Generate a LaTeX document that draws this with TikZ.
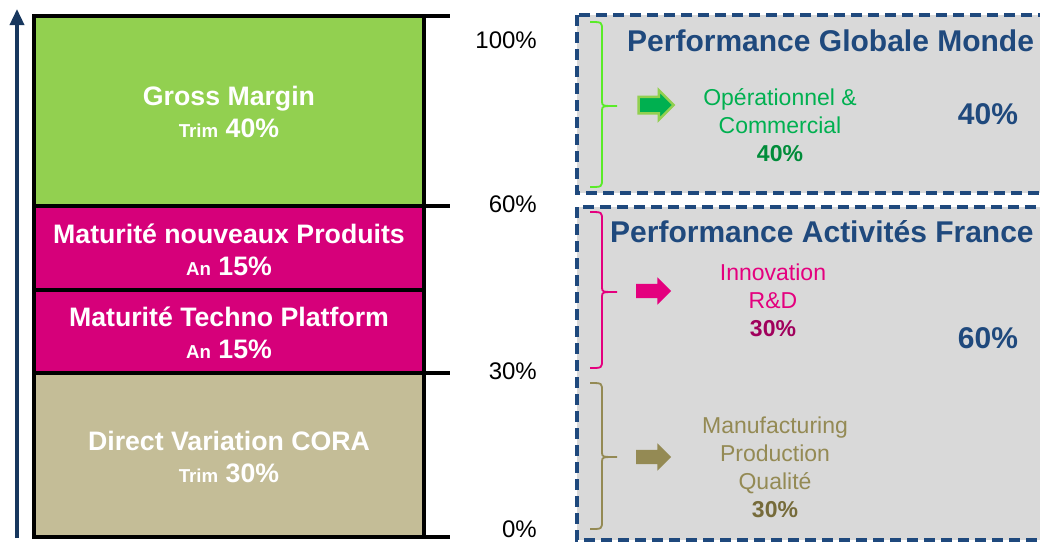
\documentclass[tikz,border=0pt]{standalone}
\usepackage{fontspec}
\setmainfont{Liberation Sans}
\usetikzlibrary{arrows.meta}
\usetikzlibrary{shapes.arrows}

\definecolor{grossgreen}{RGB}{146,208,80}
\definecolor{matmagenta}{RGB}{214,0,122}
\definecolor{coratan}{RGB}{196,189,151}
\definecolor{navy}{RGB}{31,73,125}
\definecolor{axisnavy}{RGB}{23,55,94}
\definecolor{panelgray}{RGB}{217,217,217}
\definecolor{opgreen}{RGB}{0,176,80}
\definecolor{opgreendark}{RGB}{0,140,58}
\definecolor{limebrace}{RGB}{90,235,40}
\definecolor{innopink}{RGB}{228,0,126}
\definecolor{innodark}{RGB}{160,0,92}
\definecolor{olive}{RGB}{148,138,84}
\definecolor{olivedark}{RGB}{118,107,58}

\tikzset{
    bartext/.style={text=white, inner sep=0, align=center, font=\fontsize{26.7}{32}\selectfont\bfseries},
    pct/.style={anchor=east, inner sep=0, font=\fontsize{24}{28}\selectfont},
    panel/.style={fill=panelgray, draw=navy, line width=3.3pt, dash pattern=on 11pt off 6pt},
    paneltitle/.style={anchor=base west, inner sep=0, text=navy, font=\fontsize{30}{34}\selectfont\bfseries},
    weight/.style={anchor=base, inner sep=0, text=navy, font=\fontsize{30}{34}\selectfont\bfseries},
    kpi/.style={inner sep=0, align=center, font=\fontsize{23}{28}\selectfont},
    blockarrow/.style={single arrow, inner xsep=0, inner ysep=7pt, minimum width=27pt,
        minimum height=35pt, single arrow head extend=6.5pt},
}
\newcommand{\barsmall}[1]{{\fontsize{18.7}{32}\selectfont #1}}

\begin{document}
\begin{tikzpicture}[x=1pt, y=-1pt]
    \useasboundingbox (0,0) rectangle (1040,542);

    % stacked bar
    \fill[grossgreen] (34,16) rectangle (424,206);
    \fill[matmagenta] (34,206) rectangle (424,373);
    \fill[coratan] (34,373) rectangle (424,537);
    \draw[line width=4pt] (34,16) rectangle (424,537);
    \foreach \y in {206, 290, 373} {
        \draw[line width=4pt] (34,\y) -- (424,\y);
    }
    \foreach \y in {16, 206, 373, 537} {
        \draw[line width=4pt] (424,\y) -- (450,\y);
    }

    \coordinate (axisbot) at (17,538);
    \coordinate (axistop) at (17,9);
    \draw[axisnavy, line width=3.5pt, -{Triangle[length=16pt, width=14pt]}] (axisbot) -- (axistop);

    \node[bartext] (gm) at (229,112) {Gross Margin\\\barsmall{Trim} 40\%};
    \node[bartext] (prod) at (229,250) {Maturit\'e nouveaux Produits\\\barsmall{An} 15\%};
    \node[bartext] (techno) at (229,333) {Maturit\'e Techno Platform\\\barsmall{An} 15\%};
    \node[bartext] (cora) at (229,457) {Direct Variation CORA\\\barsmall{Trim} 30\%};

    \node[pct] (p100) at (537,40) {100\%};
    \node[pct] (p60) at (537,204) {60\%};
    \node[pct] (p30) at (537,371) {30\%};
    \node[pct] (p0) at (537,529) {0\%};

    % panels on the right
    \draw[panel] (577,15) rectangle (1060,193);
    \draw[panel] (577,207) rectangle (1060,540);

    \node[paneltitle] (monde) at (627,51) {Performance Globale Monde};
    \node[paneltitle] (france) at (610,242) {Performance Activit\'es France};
    \node[weight] (w40) at (988,124) {40\%};
    \node[weight] (w60) at (988,348) {60\%};

    % braces
    \foreach \top/\tip/\bot/\col in {22/106/187/limebrace, 212/292/368/innopink, 383/457/529/olive} {
        \draw[\col, line width=1.8pt] (590,\top) .. controls (602,\top) .. (602,\top+8) -- (602,\tip-5)
            .. controls (602,\tip) .. (617,\tip) .. controls (602,\tip) .. (602,\tip+5)
            -- (602,\bot-8) .. controls (602,\bot) .. (590,\bot);
    }

    \node[blockarrow, fill=opgreen, draw=grossgreen, line width=2.5pt] (arrop) at (652,105) {};
    \node[blockarrow, fill=innopink] (arrinno) at (650,291) {};
    \node[blockarrow, fill=olive] (arrmanu) at (650,457) {};

    \node[kpi, text=opgreen] (op) at (780,125) {Op\'erationnel \&\\Commercial\\{\bfseries\color{opgreendark}40\%}};
    \node[kpi, text=innopink] (inno) at (773,300) {Innovation\\R\&D\\{\bfseries\color{innodark}30\%}};
    \node[kpi, text=olive] (manu) at (775,467) {Manufacturing\\Production\\Qualit\'e\\{\bfseries\color{olivedark}30\%}};
\end{tikzpicture}
\end{document}
